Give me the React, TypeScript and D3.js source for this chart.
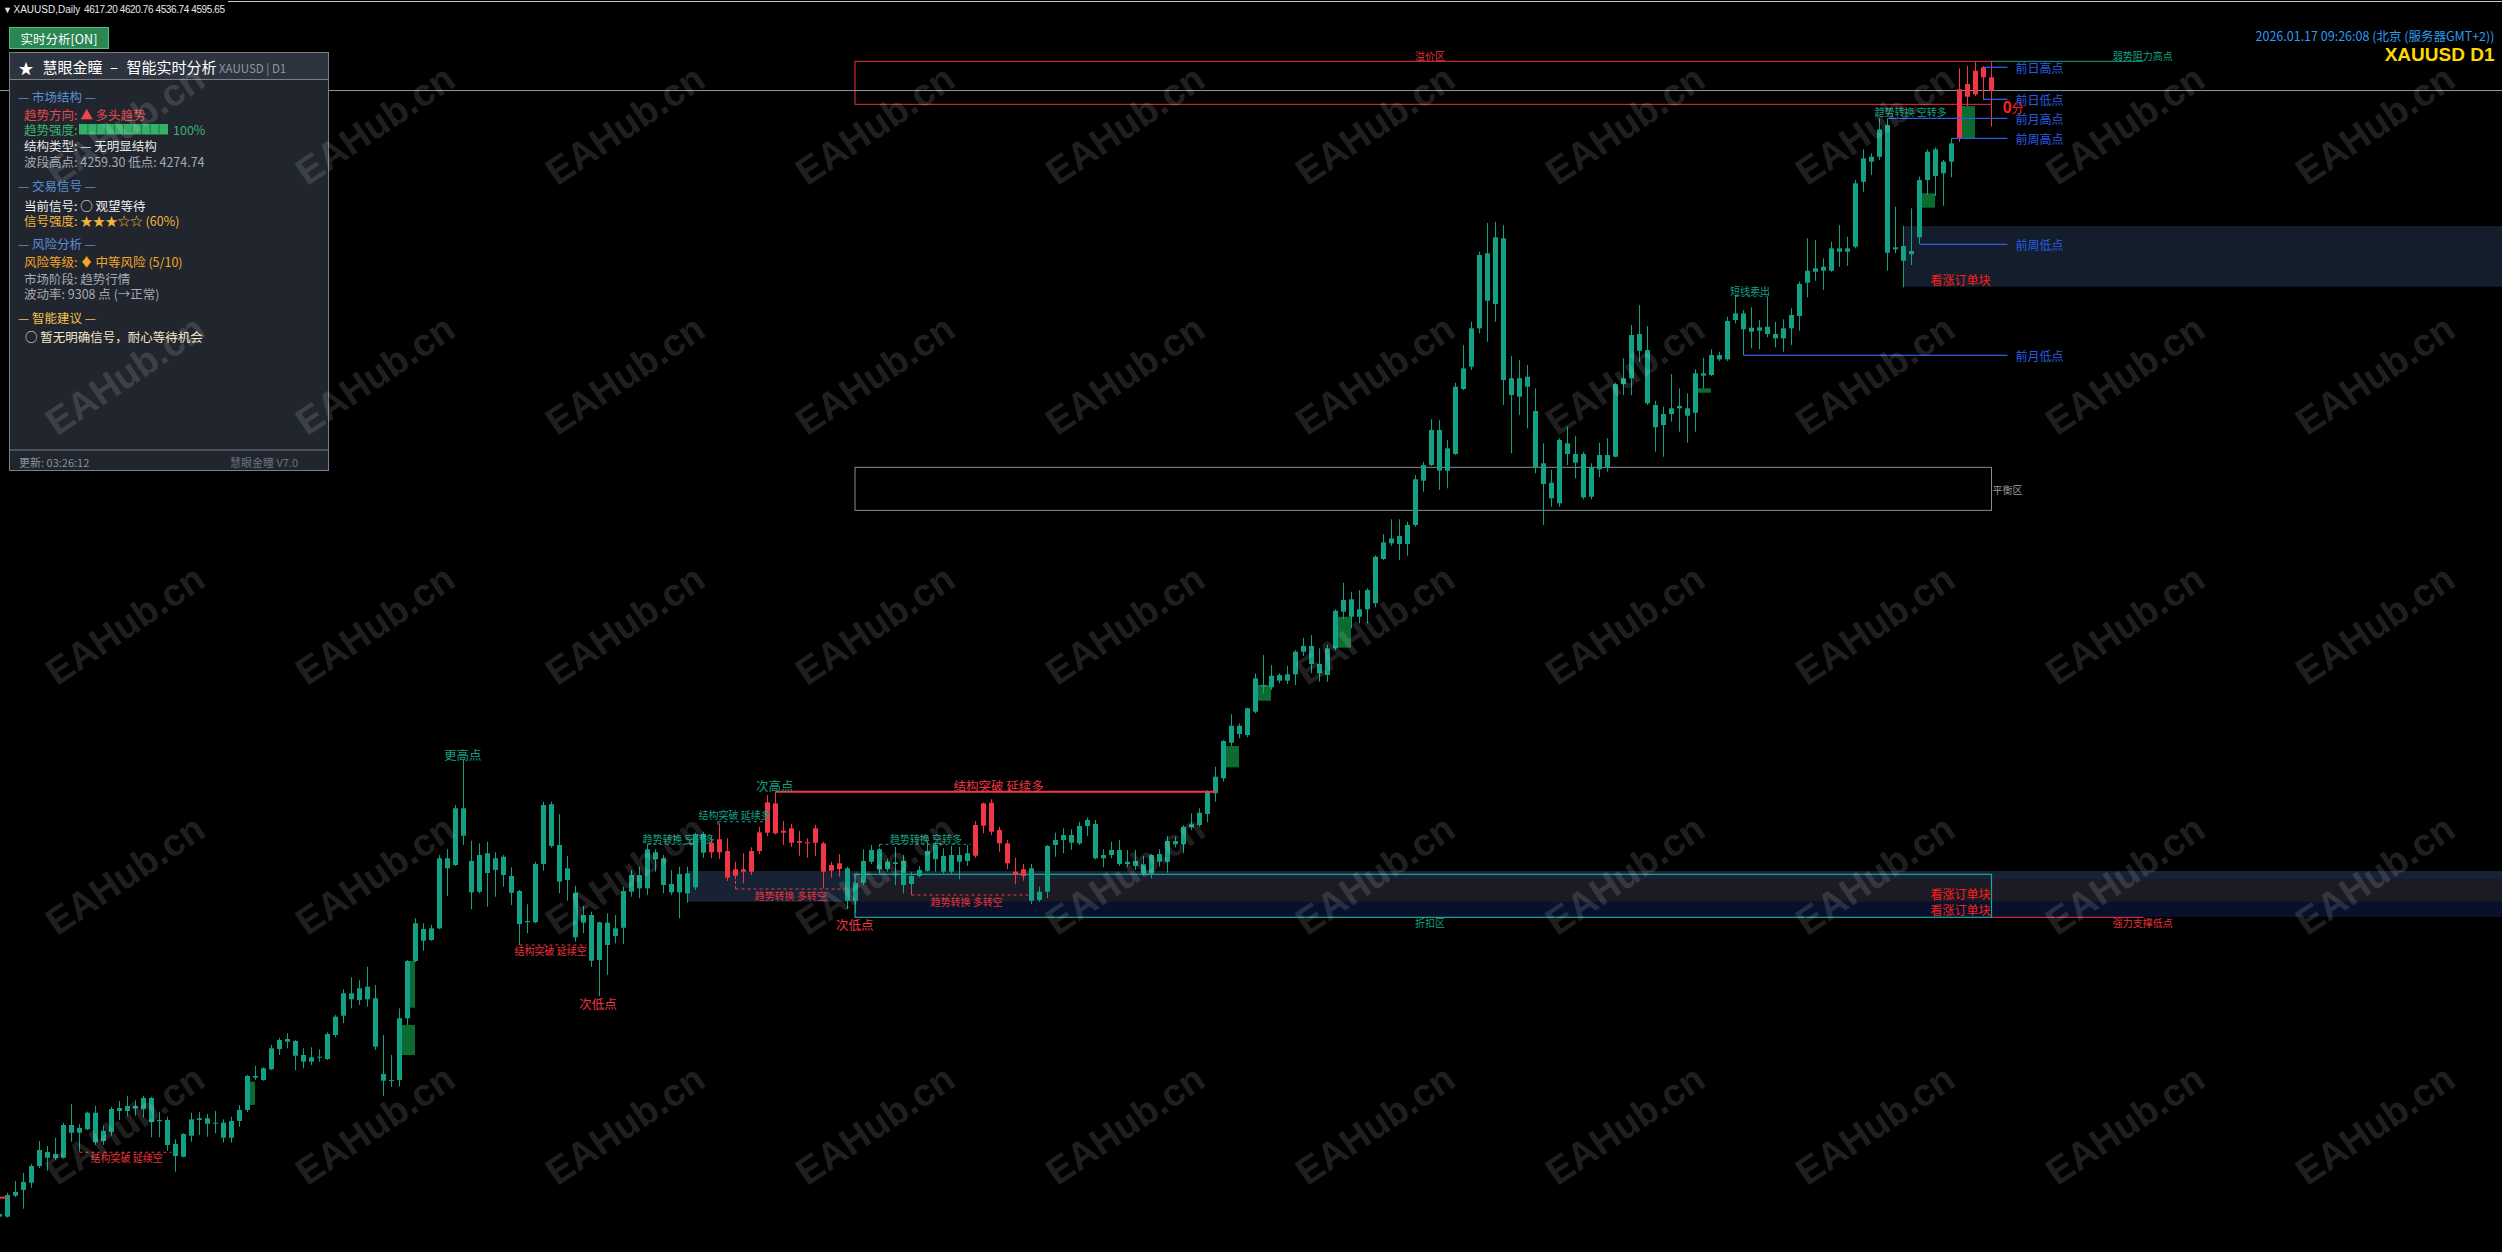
import React, { useEffect } from 'react';
import * as d3 from 'd3';

const W = 2502;
const H = 1252;

// ---- Daily candles XAUUSD (index 0..249) ----
const opens = [2752.6,2752.6,2786.9,2796.3,2808.2,2835.5,2858.4,2848.6,2849.1,2902.6,2890.0,2895.6,2922.7,2876.4,2891.6,2925.5,2925.5,2933.7,2928.3,2946.8,2908.7,2910.8,2871.5,2850.7,2885.1,2910.8,2913.6,2904.7,2906.4,2881.8,2909.2,2927.2,2982.8,2976.3,2993.8,3027.0,3039.0,3040.1,3017.2,3006.3,3014.4,3010.6,3049.9,3081.5,3118.2,3107.2,3129.0,3110.0,2986.1,2975.1,2976.3,3077.3,3171.0,3223.4,3205.4,3224.5,3339.1,3328.1,3421.0,3334.7,3284.4,3347.3,3320.0,3341.7,3310.1,3285.6,3234.4,3234.4,3329.8,3427.5,3360.9,3303.6,3282.8,3233.7,3246.3,3172.7,3233.7,3211.9,3225.5,3284.4,3311.8,3290.0,3349.0,3339.1,3283.4,3283.4,3314.5,3291.6,3378.9,3348.9,3370.2,3351.0,3310.6,3321.1,3317.2,3351.0,3381.0,3429.1,3381.0,3388.2,3364.6,3365.3,3364.6,3363.6,3318.8,3330.9,3322.7,3269.7,3299.2,3333.5,3353.9,3321.1,3332.5,3334.7,3297.1,3310.1,3318.8,3337.5,3342.9,3317.2,3344.5,3334.7,3343.3,3392.4,3430.1,3385.4,3363.6,3317.2,3310.1,3322.7,3270.9,3284.4,3360.9,3369.1,3377.2,3363.6,3392.0,3395.2,3339.1,3344.5,3352.7,3329.8,3334.7,3329.3,3311.8,3346.1,3333.5,3367.4,3362.0,3389.8,3393.6,3411.6,3445.5,3470.0,3528.3,3556.1,3540.9,3579.0,3622.7,3619.0,3639.1,3629.8,3640.2,3677.2,3686.6,3657.1,3639.1,3682.8,3742.7,3763.0,3734.5,3778.2,3756.5,3829.0,3854.6,3866.6,3853.5,3884.6,3957.1,3982.8,4040.1,3973.5,4000.8,4107.2,4143.7,4206.5,4329.3,4246.3,4353.8,4124.7,4094.6,4127.3,4071.2,3985.6,3953.8,3920.1,4018.3,4000.8,4000.8,3930.9,3975.7,3999.1,3996.4,4115.3,4124.7,4197.2,4171.0,4081.0,4048.2,4066.2,4075.6,4075.6,4068.4,4132.9,4130.1,4162.8,4155.7,4220.1,4231.0,4207.5,4202.6,4209.1,4197.2,4190.1,4206.5,4226.6,4281.1,4299.1,4307.3,4300.8,4337.4,4331.9,4340.1,4446.4,4479.2,4487.3,4539.2,4335.8,4341.2,4327.6,4355.4,4449.2,4499.5,4460.2,4479.2,4517.5,4606.3,4589.5,4633.7,4617.20];
const highs = [2762.0,2791.8,2810.9,2824.1,2838.8,2876.4,2868.2,2881.4,2906.4,2937.0,2904.2,2924.4,2933.7,2901.0,2932.6,2941.9,2950.5,2943.2,2950.0,2948.9,2924.4,2916.2,2879.2,2889.0,2922.7,2923.9,2920.6,2925.5,2911.9,2916.2,2935.3,2984.5,2999.2,2997.1,3033.6,3045.5,3052.7,3041.7,3028.2,3029.8,3026.5,3054.3,3082.6,3124.7,3144.4,3139.9,3161.7,3131.7,3049.9,3017.2,3093.6,3172.7,3240.9,3232.7,3230.0,3344.5,3354.3,3426.3,3500.0,3367.9,3363.6,3366.3,3348.9,3344.5,3324.4,3287.2,3263.8,3333.5,3431.7,3431.7,3411.6,3342.9,3294.2,3261.1,3251.7,3235.3,3249.1,3246.3,3292.6,3320.0,3325.4,3360.9,3353.9,3344.5,3320.0,3325.4,3325.4,3381.0,3382.7,3374.5,3396.4,3371.8,3333.5,3347.3,3357.1,3390.8,3442.7,3447.1,3400.1,3395.2,3383.7,3371.8,3393.6,3366.3,3333.5,3346.1,3325.4,3302.5,3353.9,3360.9,3355.5,3338.0,3358.1,3344.5,3317.2,3326.5,3367.4,3366.3,3355.5,3359.3,3358.1,3360.9,3400.1,3430.1,3435.7,3390.8,3369.1,3340.1,3329.8,3329.8,3292.6,3360.9,3381.0,3388.2,3386.6,3399.0,3405.6,3401.8,3353.9,3366.3,3369.1,3352.7,3352.7,3342.9,3346.1,3353.9,3375.6,3374.5,3393.6,3412.7,3421.0,3450.9,3489.0,3532.7,3574.8,3560.0,3585.6,3641.9,3671.8,3655.5,3641.9,3653.8,3680.0,3700.1,3704.6,3682.8,3688.2,3746.6,3790.2,3775.4,3778.2,3781.0,3835.0,3869.9,3893.9,3893.9,3890.0,3966.4,3988.2,4057.6,4056.4,4023.7,4117.5,4179.2,4217.3,4331.9,4379.0,4381.0,4375.6,4161.2,4154.6,4146.4,4108.3,4018.3,3975.0,4026.5,4045.5,4030.2,4004.6,3985.6,4019.3,4026.5,4117.5,4157.4,4211.9,4244.6,4210.3,4088.0,4078.2,4131.7,4108.3,4100.1,4139.4,4158.4,4172.1,4168.2,4225.5,4261.0,4236.5,4240.9,4220.1,4258.2,4217.3,4221.2,4239.3,4282.8,4353.8,4351.0,4321.1,4348.2,4375.6,4356.4,4449.2,4499.5,4492.9,4550.2,4550.2,4405.5,4373.9,4402.9,4454.6,4499.5,4502.7,4482.0,4517.5,4632.0,4635.8,4642.8,4636.0,4620.76];
const lows = [2748.0,2751.0,2784.8,2765.7,2800.0,2832.2,2827.8,2845.4,2847.5,2875.3,2858.9,2894.4,2869.9,2869.9,2885.1,2910.8,2917.8,2917.8,2915.2,2882.5,2882.5,2860.5,2826.2,2849.7,2875.3,2886.3,2883.5,2889.0,2873.7,2873.7,2899.9,2923.9,2976.3,2975.1,2992.6,3017.2,3028.2,2992.6,2995.4,3000.8,3006.3,3009.0,3046.2,3069.1,3093.6,3099.0,3096.2,3025.4,2950.1,2965.3,2965.3,3066.3,3168.9,3187.9,3203.8,3222.9,3277.4,3326.5,3360.9,3255.6,3281.8,3259.9,3276.3,3292.6,3262.7,3197.2,3216.4,3232.7,3318.8,3356.5,3281.8,3269.7,3202.6,3216.4,3161.7,3113.8,3148.1,3199.9,3198.8,3276.3,3273.7,3279.0,3317.2,3281.8,3279.0,3240.9,3266.4,3287.2,3339.6,3339.1,3338.0,3302.0,3304.7,3298.2,3311.8,3346.1,3375.6,3378.4,3360.9,3358.1,3343.3,3340.1,3342.9,3290.0,3307.3,3309.0,3256.0,3250.1,3295.4,3329.8,3314.5,3317.2,3295.4,3281.8,3279.0,3308.0,3317.2,3317.2,3314.5,3311.8,3304.7,3326.5,3340.1,3380.0,3377.2,3349.9,3321.1,3296.6,3302.5,3264.3,3268.1,3273.7,3341.7,3347.3,3352.7,3360.9,3375.6,3337.5,3324.4,3339.1,3326.5,3325.4,3320.0,3310.1,3306.4,3325.4,3315.5,3357.1,3347.3,3385.4,3390.8,3398.0,3431.7,3464.5,3522.9,3535.5,3537.1,3576.4,3609.1,3614.5,3625.5,3624.4,3622.7,3670.2,3641.9,3628.1,3628.1,3680.0,3730.3,3715.5,3723.7,3723.7,3750.0,3827.3,3850.2,3827.3,3834.4,3881.8,3939.1,3981.1,3941.9,3944.6,3999.1,4105.5,4138.3,4198.3,4184.6,4217.3,4081.0,4002.0,4064.6,4042.8,3969.2,3884.6,3914.5,3914.5,3982.8,3961.0,3926.6,3926.6,3962.7,3971.8,3995.4,4097.3,4097.3,4151.8,4081.0,4004.6,3996.4,4053.7,4037.3,4019.3,4037.3,4108.3,4128.4,4153.0,4153.0,4214.7,4162.8,4173.8,4172.1,4191.8,4175.4,4168.2,4179.2,4202.6,4257.2,4284.4,4269.2,4299.1,4307.3,4308.5,4337.4,4430.1,4457.4,4481.9,4300.8,4329.3,4273.6,4310.1,4344.5,4424.7,4423.0,4407.2,4453.6,4511.9,4570.3,4586.7,4580.1,4536.74];
const closes = [2757.0,2788.1,2792.9,2809.4,2835.5,2861.7,2849.1,2855.2,2902.6,2890.0,2897.7,2922.7,2874.3,2893.3,2928.8,2930.4,2933.7,2929.9,2946.8,2907.5,2910.8,2869.9,2851.9,2887.9,2911.9,2913.6,2904.7,2906.4,2881.8,2909.2,2927.2,2982.8,2980.1,2995.4,3028.2,3041.7,3043.4,3016.0,3006.3,3013.4,3012.8,3051.5,3079.9,3118.2,3108.3,3126.3,3108.3,3030.8,2975.1,2976.3,3077.3,3171.0,3232.7,3204.2,3224.5,3339.1,3322.7,3421.0,3376.1,3283.4,3344.5,3315.0,3339.1,3311.8,3282.8,3231.5,3236.5,3329.8,3426.3,3359.3,3300.9,3322.7,3209.8,3246.3,3171.5,3234.4,3197.2,3224.5,3285.6,3311.8,3290.0,3353.9,3337.5,3295.4,3297.1,3313.4,3281.8,3378.9,3348.3,3364.6,3348.9,3307.4,3321.1,3317.2,3351.0,3381.6,3430.7,3380.0,3384.3,3364.6,3367.4,3363.6,3388.2,3317.2,3328.1,3321.6,3269.7,3299.2,3334.7,3352.7,3321.1,3333.5,3329.8,3295.4,3310.1,3320.0,3351.0,3360.9,3317.2,3344.5,3333.5,3347.3,3393.6,3429.1,3382.7,3363.6,3330.9,3311.8,3321.1,3269.7,3284.4,3359.3,3369.1,3377.2,3364.6,3392.0,3401.8,3339.1,3344.5,3352.7,3329.8,3333.5,3326.5,3311.8,3344.5,3333.5,3367.4,3362.0,3390.8,3394.7,3413.7,3448.1,3472.6,3531.1,3556.1,3542.5,3584.6,3633.7,3619.9,3637.9,3629.8,3640.2,3677.2,3686.6,3657.1,3641.9,3682.8,3744.3,3761.9,3734.5,3746.6,3746.6,3832.7,3856.3,3862.7,3853.5,3884.6,3959.4,3982.8,4040.1,3973.5,4010.1,4110.9,4141.0,4206.5,4326.5,4251.7,4355.4,4121.9,4097.3,4124.7,4110.9,3979.0,3951.7,3928.3,4023.7,4000.8,3986.6,3929.9,3979.0,3999.1,3979.0,4115.3,4124.7,4195.5,4169.8,4083.8,4044.5,4066.2,4075.6,4079.3,4063.5,4132.9,4129.0,4162.8,4155.7,4218.5,4231.0,4204.9,4201.0,4208.1,4197.2,4190.1,4206.5,4228.3,4279.0,4300.8,4304.7,4300.8,4337.4,4331.9,4337.4,4443.8,4484.7,4487.3,4532.2,4330.2,4339.1,4317.1,4333.0,4449.2,4495.5,4455.8,4479.2,4509.3,4597.7,4585.5,4628.1,4617.3,4595.65];

// candles painted in the bearish-trend colour (index ranges)
const redRanges = [[89, 105], [122, 128], [245, 249]];

// imbalance blocks: start candle, end candle, top price, bottom price
const fvgStart = [31, 50, 51, 153, 157, 167, 212, 240, 245];
const fvgEnd = [32, 52, 52, 155, 159, 169, 214, 242, 247];
const fvgTop = [2973.5, 3066.3, 3171.0, 3522.9, 3622.7, 3734.5, 4108.3, 4427.4, 4570.3];
const fvgBottom = [2935.4, 3017.2, 3094.6, 3488.0, 3597.0, 3683.8, 4101.1, 4403.9, 4517.5];

// reference levels
const levelNames = ['前日高点', '前日低点', '前月高点', '前周高点', '前周低点', '前月低点'];
const levelPrices = [4633.7, 4581.3, 4550.2, 4517.5, 4344.0, 4162.3];
const levelFrom = [248, 248, 236, 244, 240, 218];

const bidPrice = 4595.65;
const premiumZone = [4643.5, 4573.1];
const equilibriumZone = [3979.0, 3908.6];
const discountZone = [3312.9, 3242.5];
const zoneStartIdx = 106.94;
const lastIdx = 249;
const extIdx = 268;
const upperOB = { from: 238, top: 4373.9, bottom: 4274.6 };
const lowerOBa = { from: 86, top: 3318.3, bottom: 3268.1 };
const lowerOBb = { from: 106.94, top: 3305.2, bottom: 3243.0 };
const bosLine = { from: 97, to: 152, price: 3448.1 };

// dashed structure markers: from, to, price, colour key, tick price
const dashFrom = [10, 65, 89.8, 81, 110, 92, 114, 217];
const dashTo = [21.5, 73.4, 96, 88.4, 121.4, 106, 129, 221];
const dashPrice = [2858.0, 3197.2, 3399.0, 3362.0, 3362.0, 3288.9, 3279.0, 4259.0];
const dashColor = ['r', 'r', 't', 't', 't', 'r', 'r', 't'];
const dashTick = [null, null, 3391, 3356, 3356, 3306.3, 3295.4, null];

// chart text labels: text, index, price, colour key, size key
const labelText = ['更高点', '次高点', '结构突破 延续多', '次低点', '次低点', '结构突破 延续空', '结构突破 延续空', '结构突破 延续多', '趋势转换 空转多', '趋势转换 空转多', '趋势转换 多转空', '趋势转换 多转空', '短线卖出', '趋势转换 空转多', '溢价区', '折扣区', '弱势阻力高点', '强力支撑低点'];
const labelIdx = [57.9, 96.9, 124.9, 106.9, 74.8, 15.9, 68.9, 91.9, 84.9, 115.8, 98.9, 120.9, 218.8, 238.9, 178.8, 178.8, 267.9, 267.9];
const labelPrice = [3508.2, 3458.6, 3457.9, 3231.1, 3101.8, 2849.1, 3187.9, 3410.0, 3371.8, 3371.8, 3279.0, 3269.2, 4269.2, 4561.0, 4653.8, 3233.7, 4653.8, 3233.7];
const labelColor = ['t', 't', 'r', 'r', 'r', 'r', 'r', 't', 't', 't', 'r', 'r', 't', 't', 'r', 't', 't', 'r'];
const labelBig = [1, 1, 1, 1, 1, 0, 0, 0, 0, 0, 0, 0, 0, 0, 0, 0, 0, 0];

const obLabelPrices = [4285.6, 3281.8, 3255.6];

const TEAL = '#13a185';
const RED = '#f23645';
const BLUE = '#2a5ce6';
const CJK = '"Noto Sans CJK SC", "Noto Sans", sans-serif';
const SANS = '"Liberation Sans", Arial, sans-serif';

export default function App() {
  useEffect(() => {
    document.body.style.margin = '0';
    document.body.style.background = '#000';
  }, []);

  const x = d3.scaleLinear().domain([0, 249]).range([-0.5, 1991.5]);
  const y = d3.scaleLinear().domain([2700, 4700]).range([1248.8, 26.8]);
  const isRed = (i: number) => redRanges.some(([a, b]) => i >= a && i <= b);
  const col = (k: string) => (k === 'r' ? RED : TEAL);

  const wmX = d3.range(10).map((k) => 125 + 250 * k);
  const wmY = d3.range(5).map((k) => 125 + 250 * k);

  const panelLines = [
    { t: '— 市场结构 —', y: 96, c: '#5a8fd6', x: 18 },
    { t: '趋势方向: ▲ 多头趋势', y: 114, c: '#e8474f', x: 24 },
    { t: '趋势强度:', y: 129.5, c: '#3cb46e', x: 24 },
    { t: '结构类型: — 无明显结构', y: 145.7, c: '#e6e6e6', x: 24 },
    { t: '波段高点: 4259.30  低点: 4274.74', y: 161.7, c: '#a3aab5', x: 24 },
    { t: '— 交易信号 —', y: 185.7, c: '#5a8fd6', x: 18 },
    { t: '当前信号: ○ 观望等待', y: 205, c: '#f0f0f0', x: 24 },
    { t: '信号强度: ★★★☆☆ (60%)', y: 220, c: '#f2b53a', x: 24 },
    { t: '— 风险分析 —', y: 243.3, c: '#5a8fd6', x: 18 },
    { t: '风险等级: ♦ 中等风险 (5/10)', y: 261.7, c: '#f5a623', x: 24 },
    { t: '市场阶段: 趋势行情', y: 278.3, c: '#a3aab5', x: 24 },
    { t: '波动率: 9308 点 (→正常)', y: 293.3, c: '#a3aab5', x: 24 },
    { t: '— 智能建议 —', y: 317.3, c: '#f2c14e', x: 18 },
    { t: '○ 暂无明确信号，耐心等待机会', y: 336, c: '#f5e6c8', x: 25 },
  ];

  return (
    <div style={{ position: 'absolute', left: 0, top: 0, width: W, height: H, background: '#000', overflow: 'hidden' }}>
      <svg width={W} height={H} style={{ display: 'block', background: '#000' }}>
        <rect x={0} y={0} width={W} height={H} fill="#000" />
        {/* top border */}
        <line x1={228} x2={W} y1={1.5} y2={1.5} stroke="#c8c8c8" strokeWidth={1} />

        {/* zones */}
        <rect x={x(upperOB.from)} y={y(upperOB.top)} width={W - x(upperOB.from)} height={y(upperOB.bottom) - y(upperOB.top)} fill="#141d2c" />
        <rect x={x(lowerOBa.from)} y={y(lowerOBa.top)} width={W - x(lowerOBa.from)} height={y(lowerOBa.bottom) - y(lowerOBa.top)} fill="#172234" />
        <rect x={x(lowerOBb.from)} y={y(lowerOBb.top)} width={W - x(lowerOBb.from)} height={y(lowerOBb.bottom) - y(lowerOBb.top)} fill="#07112c" />
        <rect x={x(lowerOBb.from)} y={y(lowerOBb.top)} width={W - x(lowerOBb.from)} height={y(lowerOBa.bottom) - y(lowerOBb.top)} fill="#1c1a24" />

        {/* premium / equilibrium / discount boxes */}
        <rect x={x(zoneStartIdx)} y={y(premiumZone[0])} width={x(lastIdx) - x(zoneStartIdx)} height={y(premiumZone[1]) - y(premiumZone[0])} fill="none" stroke="#e8323c" strokeWidth={1} />
        <rect x={x(zoneStartIdx)} y={y(equilibriumZone[0])} width={x(lastIdx) - x(zoneStartIdx)} height={y(equilibriumZone[1]) - y(equilibriumZone[0])} fill="none" stroke="#8c8c8c" strokeWidth={1} />
        <rect x={x(zoneStartIdx)} y={y(discountZone[0])} width={x(lastIdx) - x(zoneStartIdx)} height={y(discountZone[1]) - y(discountZone[0])} fill="none" stroke="#1fa893" strokeWidth={1.2} />
        <line x1={x(lastIdx)} x2={x(extIdx)} y1={y(premiumZone[0])} y2={y(premiumZone[0])} stroke={TEAL} strokeWidth={1} />
        <line x1={x(lastIdx)} x2={x(extIdx)} y1={y(discountZone[1])} y2={y(discountZone[1])} stroke={RED} strokeWidth={1} />

        {/* bid line */}
        <line x1={0} x2={W} y1={y(bidPrice)} y2={y(bidPrice)} stroke="#8d99a6" strokeWidth={1} />

        {/* imbalance blocks */}
        {fvgStart.map((s, k) => (
          <rect key={'f' + k} x={x(s) + 2.5} y={y(fvgTop[k])} width={x(fvgEnd[k]) - 0.5 - (x(s) + 2.5)} height={y(fvgBottom[k]) - y(fvgTop[k])} fill="#0b6b31" />
        ))}

        {/* candles */}
        {opens.map((o, i) => {
          const c = closes[i];
          const xc = x(i);
          const top = y(Math.max(o, c));
          const bot = y(Math.min(o, c));
          const fill = isRed(i) ? RED : TEAL;
          return (
            <g key={'c' + i}>
              <rect x={xc - 0.5} y={y(highs[i])} width={1} height={Math.max(1, y(lows[i]) - y(highs[i]))} fill={fill} />
              <rect x={xc - 2.5} y={top} width={5} height={Math.max(1, bot - top)} fill={fill} />
            </g>
          );
        })}

        {/* structure break line */}
        <line x1={x(bosLine.from)} x2={x(bosLine.to)} y1={y(bosLine.price)} y2={y(bosLine.price)} stroke={RED} strokeWidth={2} />

        {/* dashed markers */}
        {dashFrom.map((a, k) => (
          <g key={'d' + k}>
            <line x1={x(a)} x2={x(dashTo[k])} y1={y(dashPrice[k])} y2={y(dashPrice[k])} stroke={col(dashColor[k])} strokeWidth={1} strokeDasharray="3,3" />
            {dashTick[k] !== null && (
              <line x1={x(a)} x2={x(a)} y1={y(dashPrice[k])} y2={y(dashTick[k] as number)} stroke={col(dashColor[k])} strokeWidth={1} strokeDasharray="3,2" />
            )}
          </g>
        ))}
        {/* short red marker at left edge */}
        <line x1={x(-1)} x2={x(1)} y1={y(2783.7)} y2={y(2783.7)} stroke={RED} strokeWidth={2} />

        {/* reference level lines */}
        {levelNames.map((n, k) => (
          <g key={'l' + k}>
            <line x1={x(levelFrom[k])} x2={x(251)} y1={y(levelPrices[k])} y2={y(levelPrices[k])} stroke={BLUE} strokeWidth={1.3} />
            <text x={x(251) + 8} y={y(levelPrices[k])} fill={BLUE} fontSize={12} fontFamily={CJK} dominantBaseline="central">{n}</text>
          </g>
        ))}

        {/* chart labels */}
        {labelText.map((t, k) => (
          <text key={'t' + k} x={x(labelIdx[k])} y={y(labelPrice[k])} fill={labelColor[k] === 'r' ? (labelBig[k] ? RED : '#e8323c') : TEAL} fontSize={labelBig[k] ? 12.5 : 10} fontFamily={CJK} textAnchor="middle" dominantBaseline="central">{t}</text>
        ))}
        <text x={x(lastIdx) + 1} y={y(3943.5)} fill="#9a9a9a" fontSize={10} fontFamily={CJK} dominantBaseline="central">平衡区</text>
        {obLabelPrices.map((p, k) => (
          <text key={'ob' + k} x={x(lastIdx) - 1} y={y(p)} fill="#ff1e1e" fontSize={12} fontFamily={CJK} textAnchor="end" dominantBaseline="central">看涨订单块</text>
        ))}
        <text x={x(250.4)} y={y(4568.7)} fill="#ff2020" fontFamily={SANS} dominantBaseline="central">
          <tspan fontSize={16} fontWeight="bold">0</tspan>
          <tspan fontSize={12} fontFamily={CJK}>分</tspan>
        </text>

        {/* header texts */}
        <text x={3} y={10} fill="#e0e0e0" fontSize={9} fontFamily={SANS} dominantBaseline="central">▼</text>
        <text x={13.5} y={9.5} fill="#e8e8e8" fontSize={10} fontFamily={SANS} dominantBaseline="central">XAUUSD,Daily</text>
        <text x={84} y={9.5} fill="#e8e8e8" fontSize={10} fontFamily={SANS} dominantBaseline="central" textLength={141} lengthAdjust="spacing">4617.20 4620.76 4536.74 4595.65</text>
        <text x={2494.5} y={35} fill="#2a9df4" fontSize={12.5} fontFamily={CJK} textAnchor="end" dominantBaseline="central">2026.01.17 09:26:08 (北京 (服务器GMT+2))</text>
        <text x={2494.5} y={54.5} fill="#ffd700" fontSize={19} fontWeight="bold" fontFamily={SANS} textAnchor="end" dominantBaseline="central">XAUUSD D1</text>

        {/* button */}
        <rect x={9.5} y={27.5} width={99} height={21} fill="#2a8753" stroke="#4fbf80" strokeWidth={1} />
        <text x={59} y={38} fill="#ffffff" fontSize={12.5} fontFamily={CJK} textAnchor="middle" dominantBaseline="central">实时分析[ON]</text>

        {/* panel */}
        <rect x={9.5} y={52.5} width={319} height={418} fill="#21252e" stroke="#7c7f86" strokeWidth={1} />
        <rect x={10} y={53} width={318} height={26.5} fill="#2d333f" />
        <line x1={9.5} x2={328.5} y1={79.5} y2={79.5} stroke="#7c7f86" strokeWidth={1} />
        <text x={26} y={67} fill="#ffffff" fontSize={15} fontFamily={CJK} textAnchor="middle" dominantBaseline="central">★</text>
        <text x={42.5} y={66.5} fill="#ffffff" fontSize={15} fontFamily={CJK} dominantBaseline="central">慧眼金瞳</text>
        <text x={114} y={66.5} fill="#ffffff" fontSize={15} fontFamily={CJK} textAnchor="middle" dominantBaseline="central">–</text>
        <text x={126.5} y={66.5} fill="#ffffff" fontSize={15} fontFamily={CJK} dominantBaseline="central">智能实时分析</text>
        <text x={219} y={68} fill="#8c96a5" fontSize={11.5} fontFamily={CJK} dominantBaseline="central">XAUUSD | D1</text>
        {panelLines.map((l, k) => (
          <text key={'p' + k} x={l.x} y={l.y} fill={l.c} fontSize={12.5} fontFamily={CJK} dominantBaseline="central">{l.t}</text>
        ))}
        <rect x={79} y={124} width={89} height={10.5} fill="#34b068" />
        {d3.range(1, 10).map((k) => (
          <line key={'bs' + k} x1={79 + k * 8.9} x2={79 + k * 8.9} y1={124} y2={134.5} stroke="#1f7a45" strokeWidth={1} />
        ))}
        <text x={173} y={129.5} fill="#3cb46e" fontSize={12.5} fontFamily={CJK} dominantBaseline="central">100%</text>
        <line x1={9.5} x2={328.5} y1={450} y2={450} stroke="#7c7f86" strokeWidth={1} />
        <text x={19} y={461.5} fill="#8a919c" fontSize={11} fontFamily={CJK} dominantBaseline="central">更新: 03:26:12</text>
        <text x={298} y={461.5} fill="#6c7380" fontSize={11} fontFamily={CJK} textAnchor="end" dominantBaseline="central">慧眼金瞳 V7.0</text>

        {/* watermark */}
        <g style={{ pointerEvents: 'none' }}>
          {wmY.map((wy) =>
            wmX.map((wx) => (
              <text key={wx + '-' + wy} x={wx} y={wy} fill="rgba(255,255,255,0.14)" fontSize={38} fontWeight="bold" fontFamily={SANS} textAnchor="middle" dominantBaseline="central" transform={`rotate(-34 ${wx} ${wy})`}>EAHub.cn</text>
            ))
          )}
        </g>
      </svg>
    </div>
  );
}
